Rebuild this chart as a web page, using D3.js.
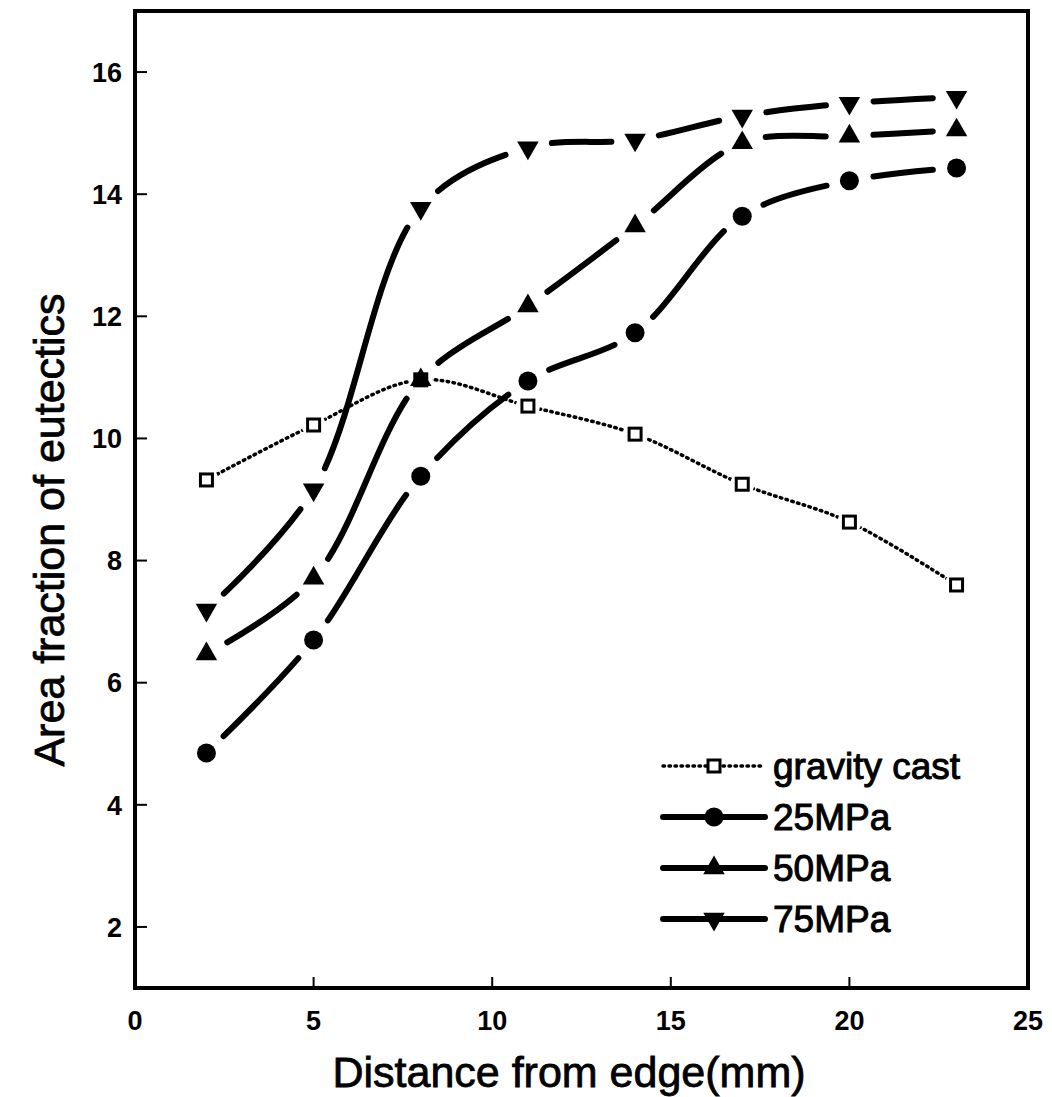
<!DOCTYPE html>
<html>
<head>
<meta charset="utf-8">
<script src="https://cdn.jsdelivr.net/npm/d3@7"></script>
<style>
    body { margin: 0; background: #fff; }
    text { font-family: "Liberation Sans", Arial, sans-serif; fill: #000; }
</style>
</head>
<body>
<div id="chart"></div>
<script>
// Data
const distance = [2, 5, 8, 11, 14, 17, 20, 23];
const gravityCast = [9.32, 10.22, 10.96, 10.53, 10.07, 9.25, 8.63, 7.6];
const mpa25 = [4.85, 6.70, 9.38, 10.94, 11.73, 13.64, 14.22, 14.43];
const mpa50 = [6.47, 7.71, 10.96, 12.17, 13.48, 14.84, 14.95, 15.05];
const mpa75 = [7.19, 9.16, 13.77, 14.76, 14.89, 15.28, 15.49, 15.59];
const seriesNames = ["gravity cast", "25MPa", "50MPa", "75MPa"];
const xTicks = [0, 5, 10, 15, 20, 25];
const yTicks = [2, 4, 6, 8, 10, 12, 14, 16];

const series = [
    { name: seriesNames[0], values: gravityCast, symbol: "square" },
    { name: seriesNames[1], values: mpa25, symbol: "circle" },
    { name: seriesNames[2], values: mpa50, symbol: "up" },
    { name: seriesNames[3], values: mpa75, symbol: "down" }
];

const width = 1052, height = 1097;
const margin = { top: 11, right: 24, bottom: 109, left: 135 };

const svg = d3.select("#chart")
    .append("svg")
    .attr("width", width)
    .attr("height", height);

// Scales
const x = d3.scaleLinear().domain([0, 25]).range([margin.left, width - margin.right]);
const y = d3.scaleLinear().domain([1, 17]).range([height - margin.bottom, margin.top]);

// Draw a marker of a given kind at the current group origin
function drawMarker(g, kind) {
    if (kind === "square") {
        g.append("rect")
            .attr("x", -6).attr("y", -6)
            .attr("width", 12).attr("height", 12)
            .attr("fill", "#fff")
            .attr("stroke", "#000")
            .attr("stroke-width", 3);
    } else if (kind === "circle") {
        g.append("circle").attr("r", 9.5).attr("fill", "#000");
    } else {
        g.append("path")
            .attr("d", d3.symbol(d3.symbolTriangle, 200)())
            .attr("transform", kind === "down" ? "rotate(180)" : null)
            .attr("fill", "#000");
    }
}

function lineStyle(sel, dotted) {
    sel.attr("fill", "none")
        .attr("stroke", "#000")
        .attr("stroke-width", dotted ? 3.5 : 6)
        .attr("stroke-linecap", "round")
        .attr("stroke-dasharray", dotted ? "1.5 4.5" : null);
}

const curve = d3.line()
    .x((d, i) => x(distance[i]))
    .y(d => y(d))
    .curve(d3.curveCatmullRom.alpha(0.5));

// Smooth lines; the solid ones are broken around each marker with a dash pattern
series.forEach(function (s) {
    const dotted = s.symbol === "square";
    const full = svg.append("path").datum(s.values).attr("d", curve);
    lineStyle(full, dotted);
    if (dotted) return;

    const gap = 24;
    const node = full.node();
    const total = node.getTotalLength();

    // arc length at each marker
    const at = [];
    let l = 0;
    s.values.forEach(function (d, i) {
        const px = x(distance[i]);
        while (l < total && node.getPointAtLength(l).x < px) l += 0.5;
        at.push(Math.min(l, total));
    });

    const pattern = [0, gap];
    for (let i = 0; i < at.length - 1; i++) {
        pattern.push(Math.max(0, at[i + 1] - at[i] - 2 * gap));
        pattern.push(2 * gap);
    }
    pattern.push(total);
    full.attr("stroke-dasharray", pattern.join(" "));
});

// small white breaks in the dotted line next to each square
svg.selectAll(".gapmask")
    .data(gravityCast)
    .enter()
    .append("circle")
    .attr("cx", (d, i) => x(distance[i]))
    .attr("cy", d => y(d))
    .attr("r", 12)
    .attr("fill", "#fff");

// Markers
series.forEach(function (s, k) {
    svg.selectAll(".m" + k)
        .data(s.values)
        .enter()
        .append("g")
        .attr("class", "m" + k)
        .attr("transform", (d, i) => `translate(${x(distance[i])},${y(d)})`)
        .each(function () { drawMarker(d3.select(this), s.symbol); });
});

// Frame
svg.append("rect")
    .attr("x", x(0))
    .attr("y", y(17))
    .attr("width", x(25) - x(0))
    .attr("height", y(1) - y(17))
    .attr("fill", "none")
    .attr("stroke", "#000")
    .attr("stroke-width", 4);

// Y ticks (inward) and labels
svg.selectAll(".ytick")
    .data(yTicks)
    .enter()
    .append("line")
    .attr("x1", x(0)).attr("x2", x(0) + 12)
    .attr("y1", d => y(d)).attr("y2", d => y(d))
    .attr("stroke", "#000").attr("stroke-width", 2);

svg.selectAll(".ylab")
    .data(yTicks)
    .enter()
    .append("text")
    .attr("x", x(0) - 13)
    .attr("y", d => y(d))
    .attr("dy", "0.36em")
    .attr("text-anchor", "end")
    .attr("font-size", 27)
    .attr("font-weight", "bold")
    .text(d => d);

// X ticks (inward) and labels
svg.selectAll(".xtick")
    .data(xTicks.slice(1, -1))
    .enter()
    .append("line")
    .attr("x1", d => x(d)).attr("x2", d => x(d))
    .attr("y1", y(1)).attr("y2", y(1) - 11)
    .attr("stroke", "#000").attr("stroke-width", 2);

svg.selectAll(".xlab")
    .data(xTicks)
    .enter()
    .append("text")
    .attr("x", d => x(d))
    .attr("y", y(1) + 42)
    .attr("text-anchor", "middle")
    .attr("font-size", 27)
    .attr("font-weight", "bold")
    .text(d => d);

// Axis titles
svg.append("text")
    .attr("x", 569)
    .attr("y", 1087)
    .attr("text-anchor", "middle")
    .attr("font-size", 43)
    .attr("stroke", "#000").attr("stroke-width", 0.8)
    .text("Distance from edge(mm)");

svg.append("text")
    .attr("transform", "translate(64,530) rotate(-90)")
    .attr("text-anchor", "middle")
    .attr("font-size", 43)
    .attr("stroke", "#000").attr("stroke-width", 0.8)
    .text("Area fraction of eutectics");

// Legend
const legend = svg.selectAll(".legend")
    .data(series)
    .enter()
    .append("g")
    .attr("transform", (d, i) => `translate(663,${766 + i * 51})`);

legend.append("line")
    .attr("x1", 0).attr("x2", 102)
    .each(function (d) { lineStyle(d3.select(this), d.symbol === "square"); });

legend.append("g")
    .attr("transform", "translate(51,0)")
    .each(function (d) { drawMarker(d3.select(this), d.symbol); });

legend.append("text")
    .attr("x", 110)
    .attr("y", 0)
    .attr("dy", "0.36em")
    .attr("font-size", 37)
    .attr("stroke", "#000").attr("stroke-width", 1)
    .text(d => d.name);
</script>
</body>
</html>
